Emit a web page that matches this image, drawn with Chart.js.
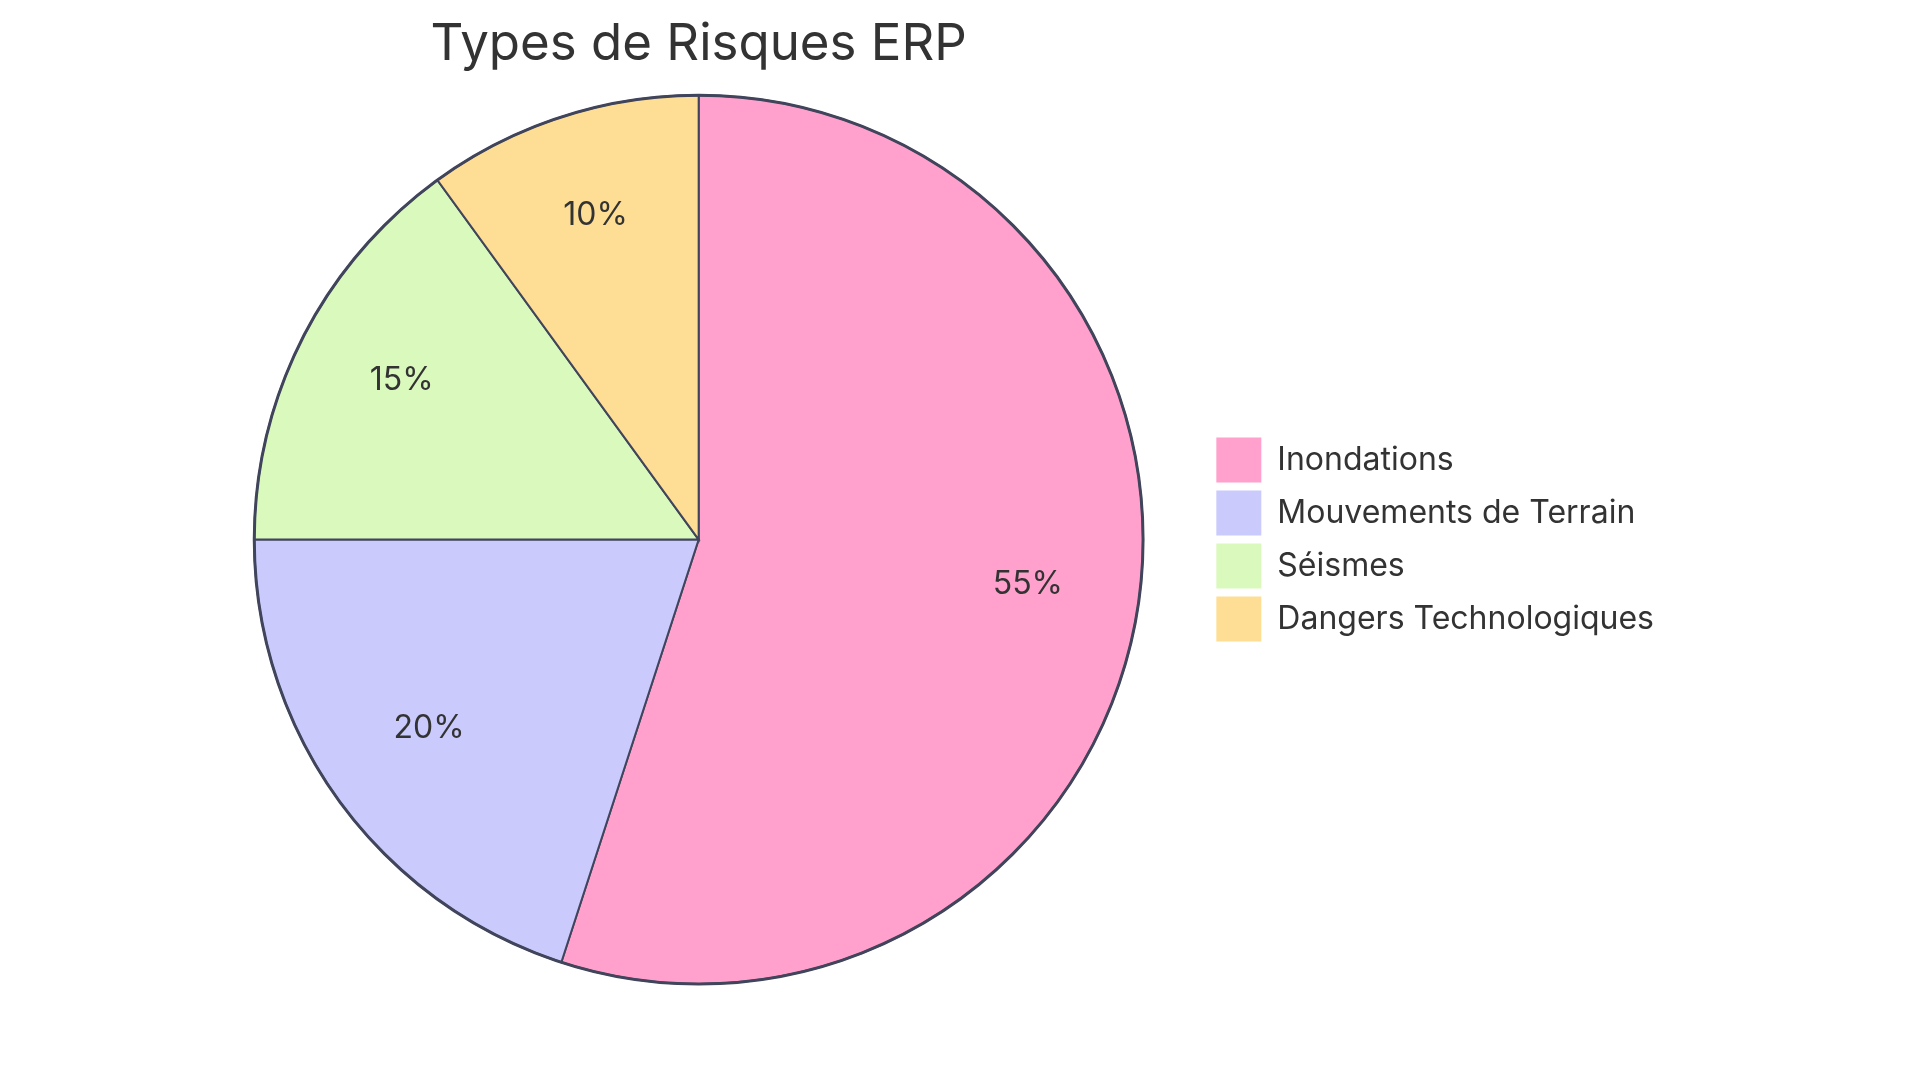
<!DOCTYPE html>
<html>
<head>
<meta charset="utf-8">
<script src="https://cdn.jsdelivr.net/npm/chart.js@4.4.1/dist/chart.umd.min.js"></script>
<style>
  html, body { margin: 0; padding: 0; background: #fff; }
  #wrap { width: 1920px; height: 1083px; }
</style>
</head>
<body>
<div id="wrap"><canvas id="riskChart"></canvas></div>
<script>
// --- Data ---
const chartTitle = 'Types de Risques ERP';
const labels = ['Inondations', 'Mouvements de Terrain', 'Séismes', 'Dangers Technologiques'];
const values = [55, 20, 15, 10];
const colors = ['#FFA1CC', '#CACAFD', '#DAF9BC', '#FEDE94'];

const strokeColor = '#41455C';
const fontFamily = 'Inter, "Open Sans", sans-serif';

// --- Percent labels at 3/4 of the radius ---
const percentLabels = {
  id: 'percentLabels',
  afterDatasetsDraw(chart) {
    const ctx = chart.ctx;
    const meta = chart.getDatasetMeta(0);
    const total = values.reduce((a, b) => a + b, 0);
    ctx.save();
    ctx.font = '400 32px ' + fontFamily;
    ctx.fillStyle = '#333333';
    ctx.textAlign = 'center';
    ctx.textBaseline = 'alphabetic';
    meta.data.forEach((arc, i) => {
      const mid = (arc.startAngle + arc.endAngle) / 2;
      const r = arc.outerRadius * 0.75;
      const pct = Math.round(values[i] / total * 100) + '%';
      ctx.fillText(pct, arc.x + Math.cos(mid) * r, arc.y + Math.sin(mid) * r + 2);
    });
    ctx.restore();
  }
};

// --- Thicker outer ring ---
const outerRing = {
  id: 'outerRing',
  afterDatasetsDraw(chart) {
    const arc = chart.getDatasetMeta(0).data[0];
    if (!arc) return;
    const ctx = chart.ctx;
    ctx.save();
    ctx.beginPath();
    ctx.arc(arc.x, arc.y, arc.outerRadius, 0, Math.PI * 2);
    ctx.lineWidth = 3;
    ctx.strokeStyle = strokeColor;
    ctx.stroke();
    ctx.restore();
  }
};

const ctx = document.getElementById('riskChart').getContext('2d');
new Chart(ctx, {
  type: 'pie',
  data: {
    labels: labels,
    datasets: [{
      data: values,
      backgroundColor: colors,
      borderColor: strokeColor,
      borderWidth: 2,
      borderJoinStyle: 'miter'
    }]
  },
  options: {
    responsive: true,
    maintainAspectRatio: false,
    animation: false,
    layout: { padding: { left: 189, right: 256, top: 0, bottom: 98 } },
    plugins: {
      title: {
        display: true,
        text: chartTitle,
        fullSize: false,
        color: '#333333',
        font: { family: fontFamily, size: 51, weight: '400', lineHeight: 1.2 },
        padding: { top: 14, bottom: 19 }
      },
      legend: {
        position: 'right',
        fullSize: false,
        labels: {
          boxWidth: 45,
          boxHeight: 45,
          padding: 8,
          color: '#333333',
          font: { family: fontFamily, size: 32 },
          generateLabels(chart) {
            const items = Chart.overrides.pie.plugins.legend.labels.generateLabels(chart);
            return items.map(it => Object.assign(it, { strokeStyle: it.fillStyle, lineWidth: 0 }));
          }
        }
      },
      tooltip: { enabled: false }
    }
  },
  plugins: [percentLabels, outerRing]
});
</script>
</body>
</html>
